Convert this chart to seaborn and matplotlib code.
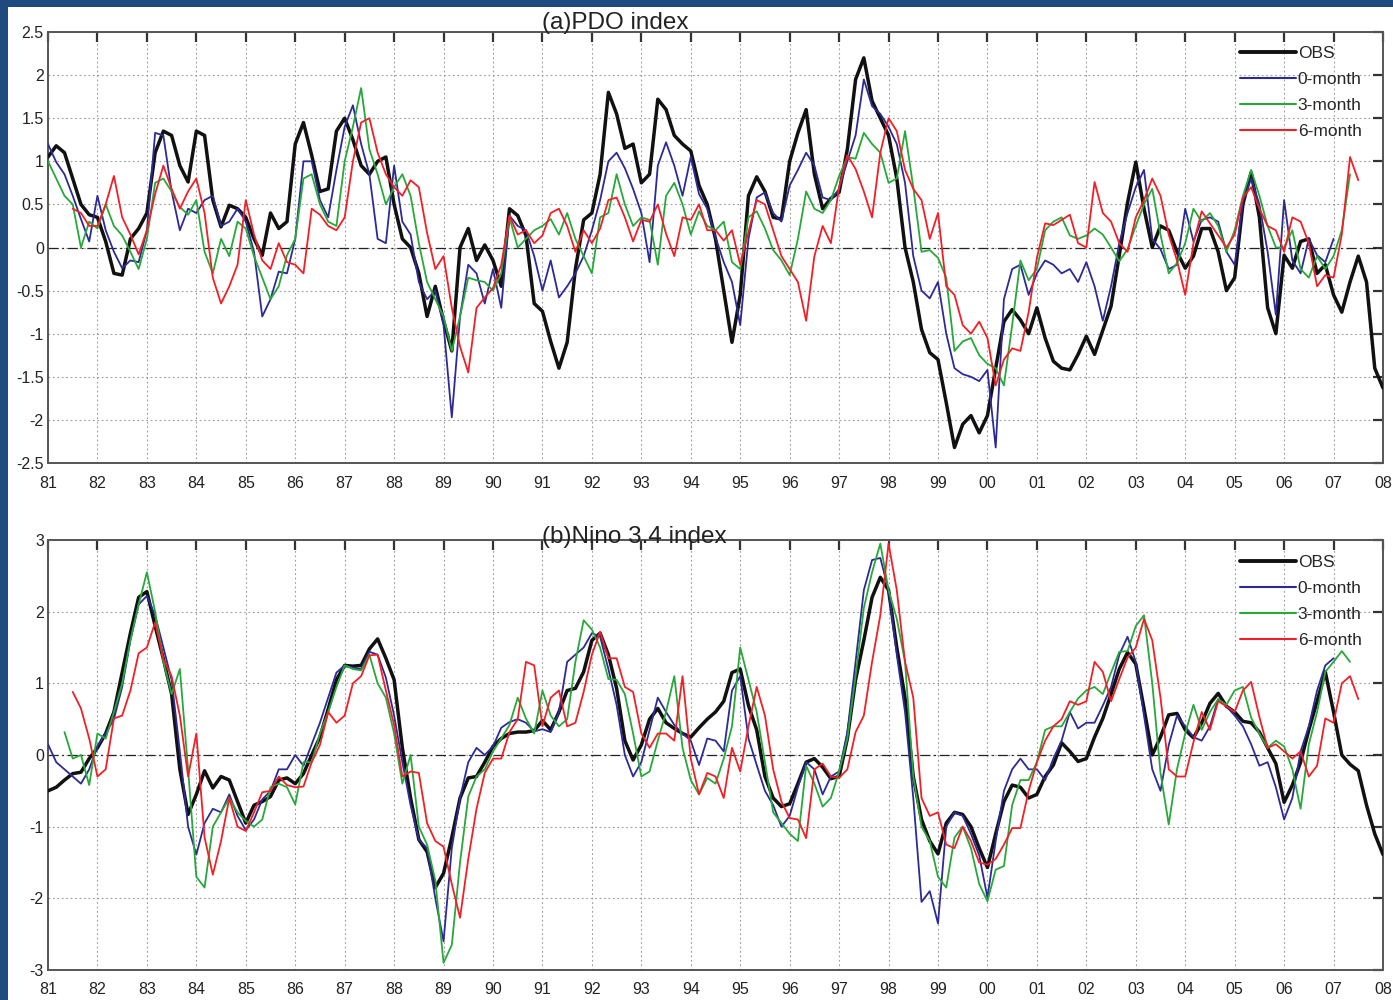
import numpy as np
import pandas as pd
import matplotlib
matplotlib.use("Agg")
import matplotlib.pyplot as plt
import matplotlib.transforms as mtransforms
from matplotlib.patches import Rectangle
from matplotlib.lines import Line2D
import seaborn as sns

# ---------------------------------------------------------------------------
# Data: two-monthly samples of each index (years as decimal numbers)
# ---------------------------------------------------------------------------
STEP = 1.0 / 6.0

series_names = ["OBS", "0-month", "3-month", "6-month"]

# (a) PDO index
pdo_obs_start = 1981.0
pdo_obs = [
    1.05, 1.18, 1.1, 0.8, 0.5, 0.38,
    0.35, 0.07, -0.3, -0.32, 0.1, 0.22,
    0.4, 1.1, 1.35, 1.3, 0.95, 0.76,
    1.35, 1.3, 0.55, 0.24, 0.49, 0.45,
    0.35, 0.1, -0.09, 0.4, 0.22, 0.3,
    1.2, 1.45, 1.07, 0.65, 0.68, 1.35,
    1.5, 1.25, 0.95, 0.85, 1.0, 1.05,
    0.5, 0.1, 0.0, -0.3, -0.8, -0.45,
    -0.85, -1.2, 0.0, 0.22, -0.15, 0.03,
    -0.15, -0.45, 0.45, 0.37, 0.14, -0.65,
    -0.74, -1.09, -1.4, -1.1, -0.25, 0.32,
    0.4, 0.85, 1.8, 1.55, 1.15, 1.2,
    0.75, 0.85, 1.72, 1.6, 1.3, 1.2,
    1.12, 0.72, 0.5, 0.1, -0.5, -1.1,
    -0.55, 0.6, 0.82, 0.65, 0.35, 0.33,
    1.0, 1.33, 1.6, 0.85, 0.45, 0.57,
    0.64, 1.14, 1.95, 2.2, 1.7, 1.5,
    1.3, 0.8, 0.0, -0.4, -0.95, -1.22,
    -1.3, -1.8, -2.32, -2.05, -1.95, -2.15,
    -1.95, -1.4, -0.86, -0.72, -0.84, -1.0,
    -0.7, -1.05, -1.32, -1.4, -1.42, -1.24,
    -1.03, -1.24, -0.96, -0.68, -0.09, 0.52,
    0.99, 0.45, 0.0, 0.25, 0.2, -0.05,
    -0.24, -0.1, 0.22, 0.22, -0.05, -0.5,
    -0.35, 0.5, 0.87, 0.35, -0.7, -1.0,
    -0.09, -0.24, 0.07, 0.1, -0.3, -0.2,
    -0.55, -0.75, -0.4, -0.1, -0.4, -1.4,
    -1.63,
]

pdo_m0_start = 1981.0
pdo_m0 = [
    1.2, 0.99, 0.85, 0.6, 0.33, 0.07,
    0.6, 0.2, -0.05, -0.24, -0.15, -0.17,
    0.2, 1.33, 1.3, 0.65, 0.2, 0.45,
    0.4, 0.55, 0.6, 0.25, 0.3, 0.45,
    0.3, -0.05, -0.8, -0.6, -0.28, -0.3,
    0.1, 1.0, 1.0, 0.55, 0.35, 0.9,
    1.4, 1.65, 1.2, 0.85, 0.1, 0.05,
    0.95, 0.3, 0.15, -0.4, -0.6, -0.5,
    -0.9, -1.97, -0.8, -0.2, -0.3, -0.65,
    -0.25, -0.7, 0.37, 0.25, 0.2, -0.1,
    -0.5, -0.15, -0.58, -0.45, -0.3, -0.1,
    0.2, 0.55, 1.0, 1.1, 0.92, 0.68,
    0.4, -0.17, 0.95, 1.22, 0.95, 0.6,
    1.05, 0.62, 0.45, 0.12, -0.17, -0.4,
    -0.9, 0.1, 0.58, 0.64, 0.4, 0.3,
    0.72, 0.9, 1.1, 0.95, 0.58, 0.55,
    0.68, 1.0, 1.3, 1.95, 1.64, 1.55,
    1.4, 1.2, 0.75, -0.1, -0.5, -0.59,
    -0.4, -1.0, -1.4, -1.47, -1.5, -1.55,
    -1.42, -2.32, -0.6, -0.25, -0.2, -0.55,
    -0.3, -0.15, -0.2, -0.3, -0.25, -0.4,
    -0.17, -0.45, -0.85, -0.45, 0.05, 0.4,
    0.7, 0.9, 0.1, -0.02, -0.25, -0.2,
    0.45, 0.07, 0.32, 0.35, 0.3, -0.05,
    -0.2, 0.53, 0.8, 0.5, -0.05, -0.78,
    0.55, -0.15, -0.3, 0.1, -0.09, -0.17,
    0.1,
]

pdo_m3_start = 1981.0
pdo_m3 = [
    1.0, 0.8, 0.6, 0.5, 0.0, 0.3,
    0.22, 0.5, 0.25, 0.14, -0.05, -0.25,
    0.1, 0.75, 0.8, 0.65, 0.47, 0.38,
    0.55, -0.05, -0.3, 0.1, -0.1, 0.3,
    0.22, -0.1, -0.35, -0.6, -0.45, -0.09,
    0.1, 0.8, 0.85, 0.5, 0.3, 0.25,
    1.0, 1.4, 1.85, 1.14, 0.85, 0.5,
    0.7, 0.85, 0.6, 0.05, -0.4, -0.6,
    -0.8, -1.2, -0.8, -0.35, -0.38, -0.4,
    -0.5, -0.3, 0.35, 0.0, 0.1, 0.2,
    0.25, 0.33, 0.15, 0.4, 0.1, -0.1,
    -0.3, 0.35, 0.4, 0.85, 0.5, 0.25,
    0.35, 0.32, -0.2, 0.6, 0.75, 0.5,
    0.15, 0.42, 0.25, 0.2, 0.3, -0.17,
    -0.25, 0.35, 0.42, 0.22, -0.03, -0.15,
    -0.32, 0.1, 0.65, 0.45, 0.4, 0.55,
    0.83, 1.05, 1.03, 1.33, 1.2, 1.1,
    0.75, 0.8, 1.35, 0.7, -0.05, -0.03,
    -0.12, -0.35, -1.2, -1.09, -1.05, -1.25,
    -1.35, -1.4, -1.6, -0.9, -0.15, -0.38,
    -0.25, 0.2, 0.3, 0.35, 0.14, 0.1,
    0.14, 0.22, 0.15, 0.0, -0.16, -0.02,
    0.25, 0.5, 0.68, 0.15, -0.3, -0.18,
    0.05, 0.45, 0.3, 0.4, 0.25, -0.05,
    0.2, 0.6, 0.9, 0.6, 0.25, 0.0,
    0.0, 0.2, -0.25, -0.35, -0.1, -0.25,
    -0.1, 0.2, 0.85,
]

pdo_m6_start = 1981.5
pdo_m6 = [
    0.45, 0.4, 0.25,
    0.25, 0.5, 0.83, 0.35, 0.15, -0.08,
    0.2, 0.62, 0.95, 0.68, 0.45, 0.65,
    0.8, 0.4, -0.35, -0.65, -0.45, -0.2,
    0.55, 0.15, -0.15, -0.25, 0.05, -0.17,
    -0.2, -0.3, 0.45, 0.38, 0.25, 0.2,
    0.35, 1.0, 1.45, 1.5, 1.1, 0.85,
    0.7, 0.6, 0.78, 0.7, 0.17, -0.25,
    -0.1, -0.7, -1.15, -1.45, -0.7, -0.58,
    -0.47, -0.2, 0.37, 0.15, 0.2, 0.05,
    0.14, 0.4, 0.45, 0.25, -0.05, 0.2,
    0.05, 0.22, 0.55, 0.58, 0.35, 0.07,
    0.32, 0.3, 0.5, 0.16, -0.1, 0.35,
    0.32, 0.5, 0.2, 0.2, 0.08, 0.2,
    -0.2, 0.18, 0.55, 0.5, 0.2, -0.1,
    -0.25, -0.4, -0.85, -0.1, 0.25, 0.05,
    0.7, 1.07, 0.91, 0.65, 0.35, 1.1,
    1.5, 1.35, 0.9, 0.68, 0.55, 0.1,
    0.4, -0.45, -0.55, -0.9, -1.0, -0.86,
    -1.05, -1.6, -1.3, -1.17, -1.2, -0.75,
    -0.12, 0.28, 0.26, 0.32, 0.38, 0.05,
    0.0, 0.76, 0.4, 0.3, 0.05, -0.05,
    0.35, 0.55, 0.8, 0.6, 0.15, -0.15,
    -0.55, 0.05, 0.42, 0.28, 0.14, 0.0,
    0.15, 0.58, 0.7, 0.45, 0.25, 0.2,
    -0.05, 0.35, 0.3, 0.05, -0.45, -0.32,
    -0.35, 0.15, 1.05, 0.78,
]

# (b) Nino 3.4 index
nino_obs_start = 1981.0
nino_obs = [
    -0.5, -0.45, -0.35, -0.26, -0.24, -0.05,
    0.1, 0.3, 0.6, 1.15, 1.7, 2.2,
    2.28, 1.8, 1.34, 0.85, -0.2, -0.83,
    -0.55, -0.22, -0.46, -0.3, -0.35, -0.65,
    -0.95, -0.7, -0.65, -0.58, -0.35, -0.32,
    -0.4, -0.26, 0.0, 0.25, 0.64, 1.05,
    1.25, 1.24, 1.25, 1.48, 1.62, 1.35,
    1.05, 0.1, -0.6, -1.18, -1.35, -1.85,
    -1.65, -1.15, -0.6, -0.32, -0.3, -0.1,
    0.12, 0.23, 0.3, 0.32, 0.32, 0.34,
    0.48, 0.35, 0.6, 0.9, 0.93, 1.16,
    1.6, 1.7, 1.4, 0.93, 0.2, -0.07,
    0.14, 0.5, 0.65, 0.45, 0.37, 0.3,
    0.25, 0.38, 0.5, 0.6, 0.75, 1.15,
    1.2, 0.69, 0.35, -0.3, -0.6, -0.72,
    -0.68, -0.4, -0.1, -0.05, -0.17, -0.33,
    -0.3, 0.23, 1.05, 1.6, 2.2, 2.48,
    2.3, 1.5, 0.8, -0.3, -0.9, -1.2,
    -1.38, -0.95, -0.8, -0.83, -1.0, -1.3,
    -1.57, -1.1, -0.65, -0.42, -0.45, -0.6,
    -0.55, -0.3, -0.14, 0.17, 0.05, -0.09,
    -0.05, 0.25, 0.51, 0.85, 1.2, 1.43,
    1.27, 0.65, 0.0, 0.25, 0.56, 0.58,
    0.35, 0.24, 0.45, 0.72, 0.86, 0.68,
    0.6, 0.47, 0.45, 0.32, 0.1, -0.12,
    -0.66, -0.42, -0.1, 0.35, 0.75, 1.16,
    0.6, 0.0, -0.13, -0.22, -0.7, -1.1,
    -1.39,
]

nino_m0_start = 1981.0
nino_m0 = [
    0.15, -0.1, -0.2, -0.3, -0.4, -0.2,
    0.12, 0.3, 0.5, 0.95, 1.6, 2.1,
    2.22, 1.95, 1.5, 1.05, 0.05, -1.0,
    -1.39, -0.95, -0.75, -0.8, -0.55, -0.85,
    -1.05, -0.9, -0.62, -0.5, -0.2, -0.2,
    0.0, -0.15, 0.15, 0.45, 0.8, 1.15,
    1.25, 1.22, 1.2, 1.44, 1.4, 1.08,
    0.55, -0.1, -0.7, -1.18, -1.3, -2.0,
    -2.6, -1.3, -0.6, -0.1, 0.1, 0.0,
    0.12, 0.38, 0.46, 0.5, 0.45, 0.33,
    0.36, 0.32, 0.6, 1.3, 1.4, 1.5,
    1.7, 1.65, 1.2, 0.7, 0.0, -0.3,
    -0.1, 0.35, 0.8, 0.6, 0.42, 0.3,
    0.2, -0.14, 0.23, 0.2, 0.05, 0.9,
    1.1, 0.23, -0.14, -0.5, -0.7, -1.0,
    -0.85, -0.45, -0.1, -0.2, -0.55, -0.3,
    -0.23, 0.32, 1.3, 2.3, 2.72, 2.75,
    2.3, 1.4, 0.6, -0.6, -2.05, -1.9,
    -2.35, -1.0, -0.8, -0.85, -1.1, -1.4,
    -1.99, -1.2, -0.5, -0.2, -0.05, -0.2,
    -0.2, -0.35, -0.05, 0.2, 0.6, 0.37,
    0.45, 0.45, 0.69, 0.95, 1.4, 1.65,
    1.3, 0.55, -0.2, -0.5, 0.14, 0.55,
    0.4, 0.25, 0.2, 0.4, 0.78, 0.68,
    0.55, 0.4, 0.15, -0.15, -0.1, -0.45,
    -0.9, -0.6, 0.05, 0.4, 0.9, 1.25,
    1.35,
]

nino_m3_start = 1981.0 + 2 * STEP
nino_m3 = [
    0.32, -0.05, 0.0, -0.42,
    0.3, 0.23, 0.6, 1.0, 1.6, 2.1,
    2.55, 2.0, 1.3, 0.85, 1.2, -0.2,
    -1.7, -1.85, -1.0, -0.8, -0.6, -0.8,
    -0.92, -1.0, -0.9, -0.45, -0.4, -0.45,
    -0.69, -0.1, -0.1, 0.3, 0.6, 0.95,
    1.25, 1.2, 1.18, 1.4, 1.0, 0.8,
    0.3, -0.4, 0.0, -1.0, -1.25, -1.75,
    -2.9, -2.65, -1.5, -0.58, -0.3, -0.2,
    0.05, 0.23, 0.42, 0.8, 0.51, 0.3,
    0.9, 0.55, 0.4, 0.5, 1.3, 1.88,
    1.75, 1.5, 1.06, 1.05, 0.85, 0.3,
    -0.3, -0.23, 0.2, 0.6, 1.1, 0.1,
    -0.35, -0.55, -0.32, -0.4, -0.05, 0.4,
    1.5, 1.05, 0.6, -0.1, -0.8, -0.95,
    -1.1, -1.2, -0.15, -0.4, -0.72, -0.6,
    -0.23, 0.23, 1.1, 2.05, 2.55, 2.95,
    2.3, 1.9, 1.3, -0.3, -1.0, -1.2,
    -1.7, -1.85, -1.15, -1.0, -1.3, -1.8,
    -2.04, -1.6, -1.55, -0.7, -0.35, -0.35,
    -0.1, 0.35, 0.4, 0.4, 0.6, 0.79,
    0.9, 0.95, 0.85, 1.15, 1.44, 1.45,
    1.8, 1.95, 1.0, -0.25, -0.97, -0.2,
    0.3, 0.7, 0.35, 0.6, 0.78, 0.7,
    0.9, 0.95, 0.52, 0.3, 0.1, 0.2,
    0.12, -0.2, -0.75, 0.15, 0.6, 1.16,
    1.3, 1.45, 1.3,
]

nino_m6_start = 1981.5
nino_m6 = [
    0.88, 0.65, 0.23,
    -0.3, -0.2, 0.51, 0.55, 0.9, 1.42,
    1.5, 1.85, 1.34, 1.1, 0.55, -0.3,
    0.3, -1.15, -1.67, -1.2, -0.6, -1.0,
    -1.06, -0.8, -0.52, -0.5, -0.3, -0.42,
    -0.45, -0.44, -0.1, 0.14, 0.6, 0.45,
    0.55, 1.0, 1.1, 1.39, 1.4, 0.9,
    0.42, -0.3, -0.23, -0.25, -0.95, -1.2,
    -1.28, -1.8, -2.27, -1.45, -0.75, -0.25,
    -0.05, -0.05, 0.32, 0.5, 1.3, 1.25,
    0.4, 0.8, 0.9, 0.4, 0.45, 0.88,
    1.4, 1.72, 1.35, 1.35, 0.95, 0.88,
    0.3, 0.1, 0.3, 0.3, 0.2, 1.1,
    -0.05, -0.55, -0.25, -0.3, -0.6, 0.1,
    -0.23, 0.4, 0.95, 0.55, -0.2, -0.65,
    -0.88, -0.9, -1.16, -0.2, -0.12, -0.3,
    -0.32, -0.2, 0.32, 0.55, 1.3, 1.95,
    2.95, 2.3, 1.3, 0.8, -0.6, -0.85,
    -0.8, -1.25, -1.3, -1.0, -1.2, -1.5,
    -1.53, -1.45, -1.25, -1.02, -1.02, -0.5,
    -0.1, 0.2, 0.4, 0.5, 0.75, 0.7,
    0.75, 1.3, 1.16, 0.75, 1.06, 1.36,
    1.5, 1.9, 1.6, 0.8, -0.2, -0.3,
    -0.3, 0.18, 0.6, 0.35, 0.75, 0.68,
    0.6, 0.9, 1.02, 0.53, 0.1, 0.15,
    0.05, -0.05, 0.05, -0.3, -0.15, 0.51,
    0.45, 1.0, 1.1, 0.78,
]

x_years = list(range(1981, 2009))
x_labels = [f"{y % 100:02d}" for y in x_years]
pdo_yticks = [-2.5, -2, -1.5, -1, -0.5, 0, 0.5, 1, 1.5, 2, 2.5]
nino_yticks = [-3, -2, -1, 0, 1, 2, 3]

# ---------------------------------------------------------------------------
# Styling
# ---------------------------------------------------------------------------
sns.set_theme(style="white")
plt.rcParams["font.family"] = ["Liberation Sans", "DejaVu Sans"]

line_styles = {
    "OBS": dict(color="#111111", lw=2.5),
    "0-month": dict(color="#2D2A96", lw=1.3),
    "3-month": dict(color="#27A83A", lw=1.3),
    "6-month": dict(color="#F21F26", lw=1.3),
}


def make_frame(values, start, name):
    years = start + np.arange(len(values)) * STEP
    return pd.DataFrame({"year": years, "value": values, "series": name})


def fmt_tick(v):
    return f"{v:g}"


fig = plt.figure(figsize=(13.93, 10.0), dpi=100)
fig.patch.set_facecolor("#1F4A7F")
fig.add_artist(Rectangle((8 / 1393, 0), 1 - 8 / 1393, 1 - 7 / 1000,
                         transform=fig.transFigure, facecolor="white",
                         edgecolor="none", zorder=0))

panels = [
    dict(rect=[48 / 1393, 1 - 463 / 1000, 1335 / 1393, 431 / 1000],
         title="(a)PDO index", title_y=1.006, ylim=(-2.5, 2.5), yticks=pdo_yticks,
         data=[(pdo_obs, pdo_obs_start), (pdo_m0, pdo_m0_start),
               (pdo_m3, pdo_m3_start), (pdo_m6, pdo_m6_start)],
         leg_anchor=((1240 - 48) / 1335, (463 - 46) / 431)),
    dict(rect=[48 / 1393, 1 - 970 / 1000, 1335 / 1393, 430 / 1000],
         title="(b)Nino 3.4 index", title_y=0.994, ylim=(-3, 3), yticks=nino_yticks,
         data=[(nino_obs, nino_obs_start), (nino_m0, nino_m0_start),
               (nino_m3, nino_m3_start), (nino_m6, nino_m6_start)],
         leg_anchor=((1240 - 48) / 1335, (970 - 555) / 430)),
]

for p in panels:
    ax = fig.add_axes(p["rect"])
    ax.set_facecolor("white")

    frames = [make_frame(v, s, n) for (v, s), n in zip(p["data"], series_names)]
    for df, name in zip(frames, series_names):
        st = line_styles[name]
        sns.lineplot(data=df, x="year", y="value", ax=ax, color=st["color"],
                     linewidth=st["lw"], estimator=None, sort=False,
                     legend=False, zorder=3)

    ax.axhline(0, color="#222222", lw=0.9, ls=(0, (8, 3, 1.5, 3)), zorder=2)

    ax.set_xlim(1981, 2008)
    ax.set_ylim(*p["ylim"])
    ax.set_xticks(x_years)
    ax.set_xticklabels(x_labels)
    ax.set_yticks(p["yticks"])
    ax.set_yticklabels([fmt_tick(v) for v in p["yticks"]])
    ax.set_xlabel("")
    ax.set_ylabel("")

    ax.grid(True, ls=(0, (1.5, 2.5)), color="#999999", lw=0.8, zorder=1)
    ax.tick_params(axis="both", which="major", direction="in", length=7,
                   width=1.6, color="#333333", labelsize=11.5,
                   labelcolor="#222222", top=True, right=True)
    ax.tick_params(axis="x", pad=9)
    ax.tick_params(axis="y", pad=3)
    for sp in ax.spines.values():
        sp.set_color("#555555")
        sp.set_linewidth(1.4)

    trans = mtransforms.blended_transform_factory(ax.transData, ax.transAxes)
    ax.text(1991.0, p["title_y"], p["title"], transform=trans, ha="left",
            va="baseline", fontsize=17.5, color="#222222", zorder=5)

    handles = [Line2D([], [], color=line_styles[n]["color"],
                      lw=line_styles[n]["lw"] + (0.3 if n == "OBS" else 0.2))
               for n in series_names]
    ax.legend(handles, series_names, loc="upper left",
              bbox_to_anchor=p["leg_anchor"], frameon=False, fontsize=12.5,
              handlelength=3.2, handletextpad=0.12, labelspacing=0.62,
              borderpad=0, borderaxespad=0)

fig.savefig("out.png", dpi=100, facecolor=fig.get_facecolor())
